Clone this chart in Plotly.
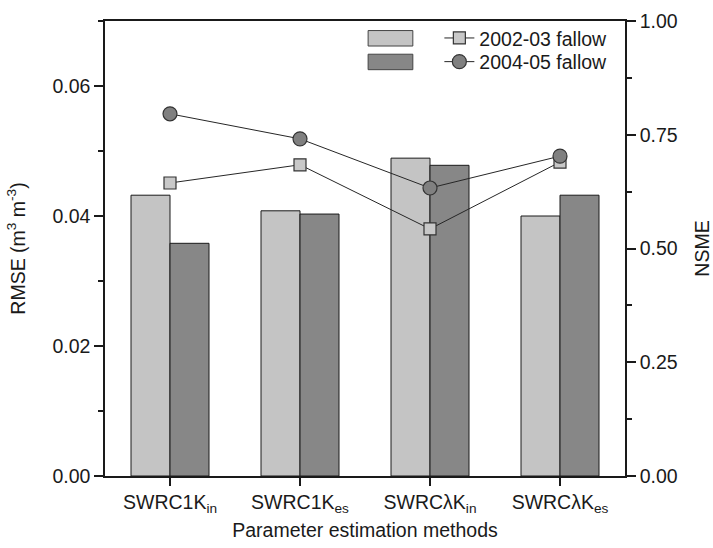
import plotly.graph_objects as go

# Parameter estimation methods (x categories)
methods = ["SWRC1K<sub>in</sub>", "SWRC1K<sub>es</sub>",
           "SWRCλK<sub>in</sub>", "SWRCλK<sub>es</sub>"]

# RMSE (m3 m-3) per fallow period
rmse_0203 = [0.0432, 0.0408, 0.0489, 0.0400]
rmse_0405 = [0.0358, 0.0403, 0.0478, 0.0432]

# NSME per fallow period
nsme_0203 = [0.644, 0.684, 0.543, 0.690]
nsme_0405 = [0.796, 0.741, 0.633, 0.703]

series_names = ["2002-03 fallow", "2004-05 fallow"]

LIGHT = "#c4c4c4"
DARK = "#878787"
INK = "#1a1a1a"
FONT = dict(family="Liberation Sans, Arial, sans-serif", size=19.5, color=INK)

fig = go.Figure()

fig.add_trace(go.Bar(x=methods, y=rmse_0203, marker=dict(color=LIGHT, line=dict(color=INK, width=1)),
                     showlegend=False, name=series_names[0]))
fig.add_trace(go.Bar(x=methods, y=rmse_0405, marker=dict(color=DARK, line=dict(color=INK, width=1)),
                     showlegend=False, name=series_names[1]))

fig.add_trace(go.Scatter(x=methods, y=nsme_0203, yaxis="y2", mode="lines+markers",
                         name=series_names[0], legend="legend",
                         line=dict(color="#262626", width=1),
                         marker=dict(symbol="square", size=12, color="#c8c8c8",
                                     line=dict(color="#333333", width=1.2))))
fig.add_trace(go.Scatter(x=methods, y=nsme_0405, yaxis="y2", mode="lines+markers",
                         name=series_names[1], legend="legend2",
                         line=dict(color="#262626", width=1),
                         marker=dict(symbol="circle", size=14, color="#808080",
                                     line=dict(color="#333333", width=1.2))))

# bar swatches that sit in front of each legend row
swatch_colors = [LIGHT, DARK]
row_y = [0.962, 0.910]
for col, yc in zip(swatch_colors, row_y):
    fig.add_shape(type="rect", xref="paper", yref="paper",
                  x0=0.506, x1=0.592, y0=yc - 0.017, y1=yc + 0.017,
                  fillcolor=col, line=dict(color="#444444", width=1))

legend_common = dict(x=0.643, xanchor="left", yanchor="middle",
                     bgcolor="rgba(0,0,0,0)", font=FONT, borderwidth=0)

fig.update_layout(
    width=713, height=548,
    margin=dict(l=105, r=88, t=21, b=72),
    paper_bgcolor="white", plot_bgcolor="white",
    font=FONT,
    barmode="group", bargap=0.4, bargroupgap=0,
    legend=dict(y=row_y[0], **legend_common),
    legend2=dict(y=row_y[1], **legend_common),
    xaxis=dict(
        range=[-0.5, 3.5], showline=True, linecolor=INK, linewidth=1.5, mirror=True,
        ticks="outside", ticklen=8, tickwidth=1.5, tickcolor=INK,
        title=dict(text="Parameter estimation methods", font=FONT, standoff=8),
        tickfont=FONT, showgrid=False, zeroline=False, automargin=False,
    ),
    yaxis=dict(
        range=[0, 0.07], dtick=0.02, tickformat=".2f",
        showline=True, linecolor=INK, linewidth=1.5,
        ticks="outside", ticklen=9, tickwidth=1.5, tickcolor=INK,
        minor=dict(dtick=0.01, ticks="outside", ticklen=5, tickwidth=1.5, tickcolor=INK, showgrid=False),
        title=dict(text="RMSE (m<sup>3</sup> m<sup>-3</sup>)", font=FONT, standoff=22),
        tickfont=FONT, showgrid=False, zeroline=False, automargin=False,
    ),
    yaxis2=dict(
        range=[0, 1.0], dtick=0.25, tickformat=".2f", overlaying="y", side="right",
        showline=True, linecolor=INK, linewidth=1.5,
        ticks="outside", ticklen=9, tickwidth=1.5, tickcolor=INK,
        minor=dict(dtick=0.125, ticks="outside", ticklen=5, tickwidth=1.5, tickcolor=INK, showgrid=False),
        title=dict(text="NSME", font=FONT, standoff=20),
        tickfont=FONT, showgrid=False, zeroline=False, automargin=False,
    ),
)

fig.write_html("out.html")
